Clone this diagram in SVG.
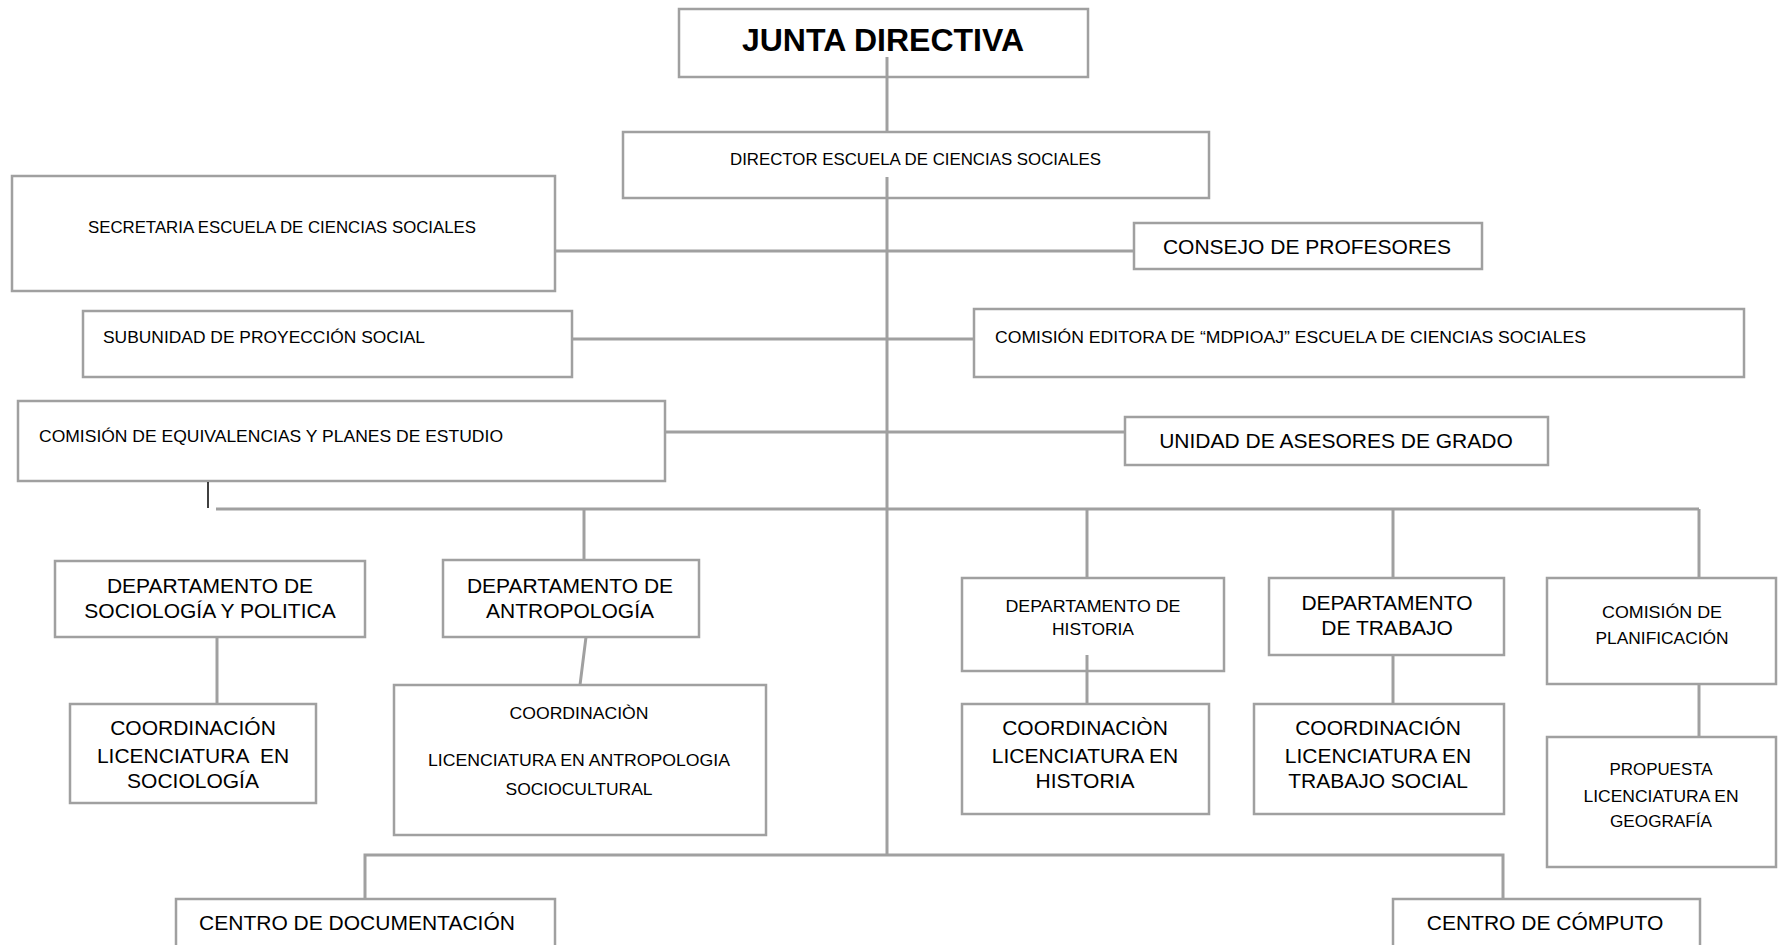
<svg xmlns="http://www.w3.org/2000/svg" width="1779" height="945" viewBox="0 0 1779 945">
<style>
.box{fill:#fff;stroke:#a0a0a0;stroke-width:2.5}
.ln{fill:none;stroke:#a0a0a0;stroke-width:3}
.c{font-family:"Liberation Sans",Arial,sans-serif;font-size:17px;fill:#000}
.a{font-family:"Liberation Sans",Arial,sans-serif;font-size:21px;fill:#000;text-anchor:middle}
.m{text-anchor:middle}
</style>
<rect width="1779" height="945" fill="#fff"/>
<g id="junta"><rect class="box" x="679" y="9" width="409" height="68"/><text x="883" y="51" text-anchor="middle" font-family="Liberation Sans,Arial,sans-serif" font-weight="bold" font-size="32">JUNTA DIRECTIVA</text></g>
<g id="director"><rect class="box" x="623" y="132" width="586" height="66"/><text class="c" x="730" y="165" textLength="371" lengthAdjust="spacingAndGlyphs">DIRECTOR ESCUELA DE  CIENCIAS SOCIALES</text></g>
<g id="secretaria"><rect class="box" x="12" y="176" width="543" height="115"/><text class="c" x="88" y="233" textLength="388" lengthAdjust="spacingAndGlyphs">SECRETARIA ESCUELA DE CIENCIAS SOCIALES</text></g>
<g id="consejo"><rect class="box" x="1134" y="223" width="348" height="46"/><text class="a" x="1307" y="254">CONSEJO DE PROFESORES</text></g>
<g id="subunidad"><rect class="box" x="83" y="311" width="489" height="66"/><text class="c" x="103" y="343" textLength="322" lengthAdjust="spacingAndGlyphs">SUBUNIDAD DE PROYECCIÓN SOCIAL</text></g>
<g id="editora"><rect class="box" x="974" y="309" width="770" height="68"/><text class="c" x="995" y="343" textLength="591" lengthAdjust="spacingAndGlyphs">COMISIÓN EDITORA DE “MDPIOAJ” ESCUELA DE CIENCIAS SOCIALES</text></g>
<g id="equivalencias"><rect class="box" x="18" y="401" width="647" height="80"/><text class="c" x="39" y="442" textLength="464" lengthAdjust="spacingAndGlyphs">COMISIÓN DE EQUIVALENCIAS Y PLANES DE  ESTUDIO</text></g>
<g id="asesores"><rect class="box" x="1125" y="417" width="423" height="48"/><text class="a" x="1336" y="448">UNIDAD DE ASESORES DE GRADO</text></g>
<g id="dept-sociologia"><rect class="box" x="55" y="561" width="310" height="76"/><text class="a" x="210" y="593">DEPARTAMENTO DE</text><text class="a" x="210" y="618">SOCIOLOGÍA Y POLITICA</text></g>
<g id="dept-antropologia"><rect class="box" x="443" y="560" width="256" height="77"/><text class="a" x="570" y="593">DEPARTAMENTO DE</text><text class="a" x="570" y="618">ANTROPOLOGÍA</text></g>
<g id="dept-historia"><rect class="box" x="962" y="578" width="262" height="93"/><text class="c m" x="1093" y="612" textLength="175" lengthAdjust="spacingAndGlyphs">DEPARTAMENTO DE</text><text class="c m" x="1093" y="635" textLength="82" lengthAdjust="spacingAndGlyphs">HISTORIA</text></g>
<g id="dept-trabajo"><rect class="box" x="1269" y="578" width="235" height="77"/><text class="a" x="1387" y="610">DEPARTAMENTO</text><text class="a" x="1387" y="635">DE TRABAJO</text></g>
<g id="comision-planificacion"><rect class="box" x="1547" y="578" width="229" height="106"/><text class="c m" x="1662" y="618" textLength="120" lengthAdjust="spacingAndGlyphs">COMISIÓN DE</text><text class="c m" x="1662" y="644" textLength="133" lengthAdjust="spacingAndGlyphs">PLANIFICACIÓN</text></g>
<g id="coord-sociologia"><rect class="box" x="70" y="704" width="246" height="99"/><text class="a" x="193" y="735">COORDINACIÓN</text><text class="a" x="193" y="763" xml:space="preserve">LICENCIATURA  EN</text><text class="a" x="193" y="788">SOCIOLOGÍA</text></g>
<g id="coord-antropologia"><rect class="box" x="394" y="685" width="372" height="150"/><text class="c m" x="579" y="719" textLength="139" lengthAdjust="spacingAndGlyphs">COORDINACIÒN</text><text class="c m" x="579" y="766" textLength="302" lengthAdjust="spacingAndGlyphs">LICENCIATURA EN ANTROPOLOGIA</text><text class="c m" x="579" y="795" textLength="147" lengthAdjust="spacingAndGlyphs">SOCIOCULTURAL</text></g>
<g id="coord-historia"><rect class="box" x="962" y="704" width="247" height="110"/><text class="a" x="1085" y="735">COORDINACIÒN</text><text class="a" x="1085" y="763">LICENCIATURA EN</text><text class="a" x="1085" y="788">HISTORIA</text></g>
<g id="coord-trabajo"><rect class="box" x="1254" y="704" width="250" height="110"/><text class="a" x="1378" y="735">COORDINACIÓN</text><text class="a" x="1378" y="763">LICENCIATURA EN</text><text class="a" x="1378" y="788">TRABAJO SOCIAL</text></g>
<g id="propuesta"><rect class="box" x="1547" y="737" width="229" height="130"/><text class="c m" x="1661" y="775" textLength="103" lengthAdjust="spacingAndGlyphs">PROPUESTA</text><text class="c m" x="1661" y="802" textLength="155" lengthAdjust="spacingAndGlyphs">LICENCIATURA EN</text><text class="c m" x="1661" y="827" textLength="102" lengthAdjust="spacingAndGlyphs">GEOGRAFÍA</text></g>
<g id="centro-documentacion"><rect class="box" x="176" y="899" width="379" height="70"/><text class="a" x="357" y="930">CENTRO DE DOCUMENTACIÓN</text></g>
<g id="centro-computo"><rect class="box" x="1393" y="899" width="307" height="70"/><text class="a" x="1545" y="930">CENTRO DE CÓMPUTO</text></g>
<g id="connectors">
<path class="ln" d="M887 57V132"/>
<path class="ln" d="M887 177V855"/>
<path class="ln" d="M555 251H1134"/>
<path class="ln" d="M572 339H974"/>
<path class="ln" d="M665 432H1125"/>
<path class="ln" d="M216 509H1699"/>
<path d="M208 482V508" stroke="#000" stroke-width="1.5" fill="none"/>
<path class="ln" d="M584 509V560"/>
<path class="ln" d="M1087 509V578"/>
<path class="ln" d="M1393 509V578"/>
<path class="ln" d="M1699 509V578"/>
<path class="ln" d="M217 637V704"/>
<path class="ln" d="M586 637L580 685"/>
<path class="ln" d="M1087 655V704"/>
<path class="ln" d="M1393 655V704"/>
<path class="ln" d="M1699 684V737"/>
<path class="ln" d="M365 899V855H1503V899"/>
</g>
</svg>
